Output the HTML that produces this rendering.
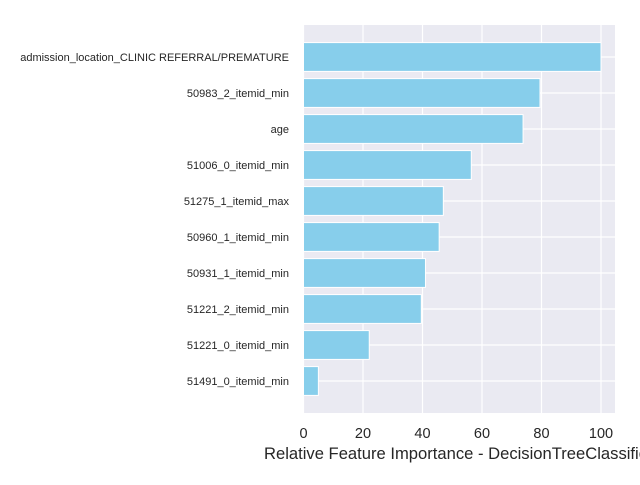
<!DOCTYPE html>
<html><head><meta charset="utf-8"><style>
body{margin:0;background:#fff;width:640px;height:480px;overflow:hidden}
svg{font-family:"Liberation Sans",Arial,sans-serif}
</style></head><body>
<svg id="chart" width="640" height="480"></svg>
<script>
const categories=["admission_location_CLINIC REFERRAL/PREMATURE","50983_2_itemid_min","age","51006_0_itemid_min","51275_1_itemid_max","50960_1_itemid_min","50931_1_itemid_min","51221_2_itemid_min","51221_0_itemid_min","51491_0_itemid_min"];
const values=[100,79.5,73.8,56.4,47,45.6,41,39.6,22.1,5];
const xTicks=[0,20,40,60,80,100];
const NS="http://www.w3.org/2000/svg";
const svg=document.getElementById('chart');
const L=304,R=615,T=25,B=413;
const x=v=>303.5+v*(601-303.5)/100;
const step=36,y=i=>57+i*step;
function el(t,a,p){const e=document.createElementNS(NS,t);for(const k in a)e.setAttribute(k,a[k]);(p||svg).appendChild(e);return e;}
const bg=el('rect',{x:L,y:T,width:R-L,height:B-T,fill:'#eaeaf2'});


xTicks.forEach(t=>{
 const g=el('line',{x1:x(t),x2:x(t),y1:T,y2:B,stroke:'#fff','stroke-width':1.2});
 
 
 const tx=el('text',{x:x(t),y:438,'text-anchor':'middle','font-size':14.5,fill:'#262626'});
 tx.textContent=t;
 
 
});
categories.forEach((c,i)=>{
 const g=el('line',{x1:L,x2:R,y1:y(i),y2:y(i),stroke:'#fff','stroke-width':1.2});
 
 
});
categories.forEach((c,i)=>{
 const b=el('rect',{x:x(0),y:y(i)-14.4,width:x(values[i])-x(0),height:28.8,fill:'#87ceeb',stroke:'#fff','stroke-width':1});
 
 
 const tx=el('text',{x:289,y:y(i)+4,'text-anchor':'end','font-size':11,fill:'#262626'});
 tx.textContent=c;
 
 
});
const xt=el('text',{x:264,y:459,'font-size':16.6,fill:'#262626'});
xt.textContent="Relative Feature Importance - DecisionTreeClassifier";


</script>
</body></html>
